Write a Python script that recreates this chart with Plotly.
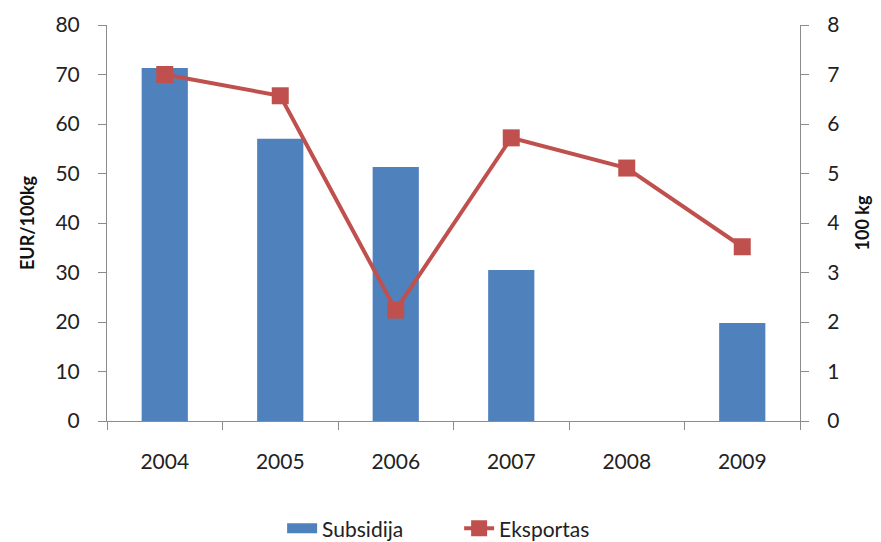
import plotly.graph_objects as go

years = ["2004", "2005", "2006", "2007", "2008", "2009"]
subsidija = [71.3, 57.0, 51.3, 30.5, 0, 19.8]
eksportas = [7.0, 6.57, 2.24, 5.72, 5.11, 3.52]

font_family = "Lato, Open Sans, sans-serif"
BLUE = "#4F81BD"
RED = "#C0504D"

fig = go.Figure()
fig.add_trace(go.Bar(
    x=years, y=subsidija, name="Subsidija",
    marker=dict(color=BLUE, line=dict(width=0)),
    width=0.4, yaxis="y", showlegend=False,
))
# legend proxy for the bar series (wide Excel-like patch)
fig.add_trace(go.Scatter(
    x=[None], y=[None], name="Subsidija", mode="lines",
    line=dict(color=BLUE, width=14), yaxis="y",
))
fig.add_trace(go.Scatter(
    x=years, y=eksportas, name="Eksportas", yaxis="y2",
    mode="lines+markers",
    line=dict(color=RED, width=4),
    marker=dict(symbol="square", size=17, color=RED),
))

axis_common = dict(
    showgrid=False, zeroline=False, showline=True, linecolor="#8c8c8c", linewidth=1,
    ticks="outside", ticklen=8, tickcolor="#8c8c8c", automargin=False,
    tickfont=dict(family=font_family, size=21, color="#222222"),
)

fig.update_layout(
    width=873, height=534,
    margin=dict(l=99, r=81, t=17, b=121),
    paper_bgcolor="white", plot_bgcolor="white",
    showlegend=True,
    legend=dict(orientation="h", xref="container", x=0.314, xanchor="left", yref="container",
                y=0.025, yanchor="middle", entrywidth=132, entrywidthmode="pixels",
                font=dict(family=font_family, size=21, color="#222222")),
    xaxis=dict(**axis_common, type="category", tickson="boundaries", ticklabelstandoff=22),
    yaxis=dict(**axis_common, range=[0, 80], dtick=10, ticklabelstandoff=14,
               title=dict(text="<b>EUR/100kg</b>", font=dict(family=font_family, size=18, color="#111111"),
                          standoff=16)),
    yaxis2=dict(**axis_common, range=[0, 8], dtick=1, overlaying="y", side="right",
                ticklabelstandoff=14,
                title=dict(text="<b>100 kg</b>", font=dict(family=font_family, size=18, color="#111111"),
                           standoff=18)),
)

fig.write_html("out.html")
